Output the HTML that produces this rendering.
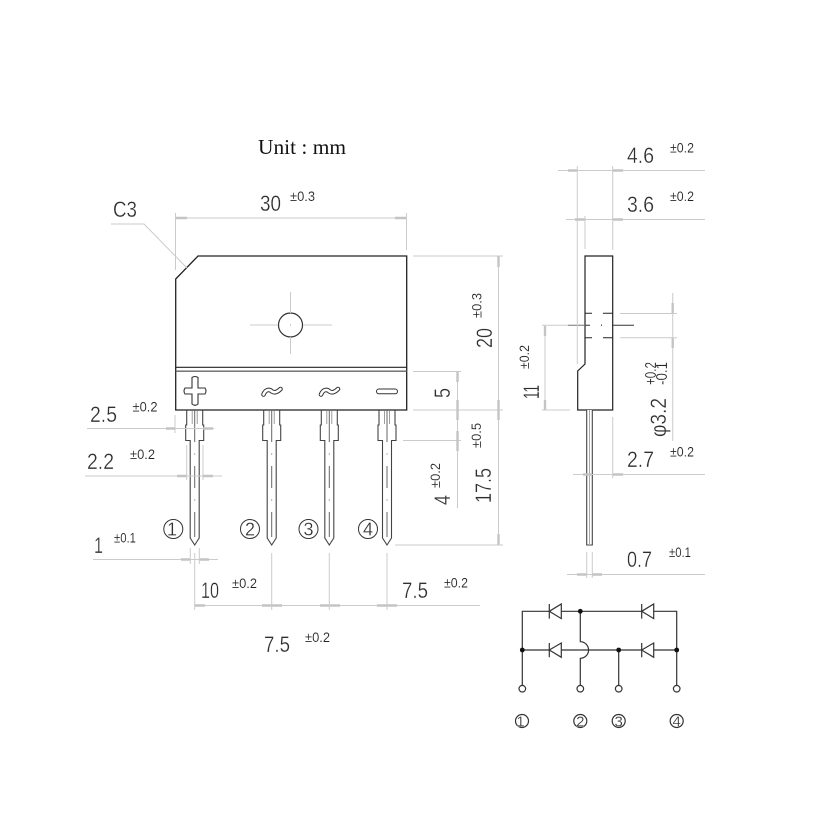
<!DOCTYPE html>
<html><head><meta charset="utf-8"><style>
html,body{margin:0;padding:0;background:#fff;width:838px;height:838px;overflow:hidden}
svg{display:block}
text{font-family:"Liberation Sans",sans-serif;fill:#2e2e2e}
.n{font-size:22.5px;stroke:#fff;stroke-width:.3}
.s{font-size:14px;fill:#222;stroke:#fff;stroke-width:.12}
.p{font-size:16px;fill:#222;stroke:#fff;stroke-width:.15}
.c{font-size:18px;text-anchor:middle;stroke:#fff;stroke-width:.25}
.d{font-size:15px;text-anchor:middle;stroke:#fff;stroke-width:.2}
.u{font-family:"Liberation Serif",serif;font-size:21.5px;fill:#111}
</style></head><body>
<svg width="838" height="838" viewBox="0 0 838 838" xmlns="http://www.w3.org/2000/svg">
<defs>
<g id="pin">
<path d="M-8 410V425H-9V440.5H-4.5V538L0 545L4.5 538V440.5H9V425H8V410" fill="none" stroke="#444" stroke-width="1.1"/>
<path d="M0 410V442M0 453.5V454.5M0 466V488M0 499.5V500.5M0 512V537" fill="none" stroke="#666" stroke-width="1"/>
<path d="M-2.5 410V424M2.5 410V424" fill="none" stroke="#777" stroke-width=".9" opacity=".8"/>
</g>
<g id="wave">
<path d="M-8 3C-5.500 -3 -1.500 -2 .5 0C3.500 2 6.500 0 9 -2.500" fill="none" stroke="#333" stroke-width="4.600" stroke-linecap="round"/>
<path d="M-8 3C-5.500 -3 -1.500 -2 .5 0C3.500 2 6.500 0 9 -2.500" fill="none" stroke="#fff" stroke-width="2.600" stroke-linecap="round"/>
</g>
</defs>

<!-- body -->
<path d="M175.7 279L198 256H406.7V410H175.7Z" fill="#fff" stroke="#222" stroke-width="1.3"/>
<path d="M175.7 367.3H406.7" stroke="#222" stroke-width="1.2"/>
<path d="M175.7 371.2H406.7" stroke="#666" stroke-width="1.4"/>
<circle cx="290.5" cy="325" r="12" fill="#fff" stroke="#333" stroke-width="1.2"/>
<path d="M290.5 324.5V325.500" stroke="#aaa"/>

<!-- symbols -->
<path d="M192 377.500Q195 375.500 198 377.500V388H205Q207 391 205 394H198V404Q195 406.500 192 404V394H185Q183 391 185 388H192Z" fill="#fff" stroke="#333" stroke-width="1.100"/>
<use href="#wave" x="271.500" y="391.500"/>
<use href="#wave" x="329" y="391.500"/>
<rect x="376.500" y="389" width="21" height="4.800" rx="2.400" fill="#fff" stroke="#333" stroke-width="1"/>

<!-- pins -->
<use href="#pin" x="194.700"/>
<use href="#pin" x="271.700"/>
<use href="#pin" x="329.300"/>
<use href="#pin" x="387"/>

<!-- numbered circles -->
<g fill="#fff" stroke="#333" stroke-width="1">
<circle cx="173.300" cy="529" r="9.500"/><circle cx="250" cy="529" r="9.500"/><circle cx="308.500" cy="529" r="9.500"/><circle cx="368" cy="529" r="9.500"/>
</g>
<text class="c" x="172" y="535.500">1</text><text class="c" x="250" y="535.500">2</text><text class="c" x="308.500" y="535.500">3</text><text class="c" x="368" y="535.500">4</text>

<!-- side view -->
<path d="M585 256H612.700V410H577.700V371L585 364Z" fill="#fff" stroke="#222" stroke-width="1.200"/>
<path d="M586.700 410V545H592.300V410" fill="#fff" stroke="#444" stroke-width="1.100"/>
<path d="M589.500 410V545" stroke="#aaa" stroke-width="1"/>
<path d="M585 313.300H592M603 313.300H612.700M585 337.700H592M603 337.700H612.700" stroke="#222" stroke-width="1"/>
<path d="M585 325.300H590M612.700 325.300H634" stroke="#333" stroke-width="1"/>
<path d="M568 325.300H585" stroke="#777" stroke-width="1"/>
<path d="M601.500 324.500V326" stroke="#555"/>

<!-- light dimension lines -->
<g fill="none" stroke="#cbcbcb" stroke-width="1">
<path d="M175.500 218H406.500M175.500 213V270M406.500 213V250"/>
<path d="M111 224H144L187 268"/>
<path d="M250 325H278M303 325H332M290.500 292V313M290.500 337V354"/>
<path d="M413 256H503M413 410H503M395 545H503M498.500 256V545"/>
<path d="M413 371.500H461M403 440.500H461M457.500 371.500V508"/>
<path d="M87 428.500H214M175 415V433"/>
<path d="M85 476H222M186.700 445V480M203 445V480"/>
<path d="M93 559.500H218M190.300 548V564M199.300 548V564"/>
<path d="M194 605.500H480M194.700 553V610M271.700 553V610M329.300 553V610M387 553V610"/>
<path d="M558 170.500H705M566 219.500H705M577.300 166V364M612.700 166V250M585 216V249"/>
<path d="M620 313.500H677M620 337.700H677M672.700 293V441"/>
<path d="M542 325.300H568M542 410H570M545 325.300V410"/>
<path d="M573 474.500H705M612.700 417V478"/>
<path d="M567 574.500H705M586.700 552V578M592.300 552V578"/>
</g>
<!-- arrow heads -->
<g fill="none" stroke="#c4c4c4" stroke-width="2.400">
<path d="M176 218H187M395 218H406"/>
<path d="M166 428.500H175M203 428.500H213"/>
<path d="M177 476H186.500M203 476H213"/>
<path d="M181 559.500H190M199.500 559.500H209"/>
<path d="M195 605.500H205M262 605.500H271.500M272 605.500H282M320 605.500H329M330 605.500H340M377 605.500H387M387.500 605.500H397"/>
<path d="M498.500 256V267M498.500 400V420M498.500 534V545"/>
<path d="M457.500 372V382M457.500 400V420M457.500 431V451"/>
<path d="M568 170.500H577M613 170.500H623M575 219.500H585M613 219.500H623"/>
<path d="M672.700 303V313M672.700 338V348"/>
<path d="M545 326V336M545 400V410"/>
<path d="M583 474.500H592M613 474.500H623"/>
<path d="M577 574.500H586.500M592.500 574.500H602"/>
</g>

<!-- schematic -->
<g fill="none" stroke="#333" stroke-width="1.200">
<path d="M522.300 685.400V611.300H549.300M561.300 611.300H641.700M653.700 611.300H676.700V685.400"/>
<path d="M522.300 650H549.300M561.300 650H580.300"/>
<path d="M580.300 650H641.700M653.700 650H676.700"/>
<path d="M580.300 611.300V641.700A8.300 8.300 0 0 1 580.300 658.300V685.400"/>
<path d="M618.700 650V685.400"/>
<path d="M561.300 604V618.600L549.300 611.300ZM561.300 643V657.300L549.300 650ZM653.700 604V618.600L641.700 611.300ZM653.700 643V657.300L641.700 650Z" fill="#fff"/>
<path d="M549.300 604V618.600M549.300 643V657.300M641.700 604V618.600M641.700 643V657.300"/>
<circle cx="522.300" cy="688.700" r="3.300" fill="#fff"/><circle cx="580.300" cy="688.700" r="3.300" fill="#fff"/><circle cx="618.700" cy="688.700" r="3.300" fill="#fff"/><circle cx="676.700" cy="688.700" r="3.300" fill="#fff"/>
<circle cx="522" cy="721" r="6.500"/><circle cx="580.300" cy="721" r="6.500"/><circle cx="618.700" cy="721" r="6.500"/><circle cx="676.700" cy="721" r="6.500"/>
</g>
<g fill="#111"><circle cx="580.300" cy="611.300" r="2.400"/><circle cx="522.300" cy="650" r="2.400"/><circle cx="618.700" cy="650" r="2.400"/><circle cx="676.700" cy="650" r="2.400"/></g>
<text class="d" x="520.500" y="726.500">1</text><text class="d" x="580.300" y="726.500">2</text><text class="d" x="618.700" y="726.500">3</text><text class="d" x="676.700" y="726.500">4</text>

<!-- text -->
<text class="u" x="258" y="154" textLength="88" lengthAdjust="spacingAndGlyphs">Unit : mm</text>
<text class="n" x="260" y="211" textLength="21" lengthAdjust="spacingAndGlyphs">30</text>
<text class="n" x="113" y="217" textLength="24" lengthAdjust="spacingAndGlyphs">C3</text>
<text class="n" x="90" y="422" textLength="27" lengthAdjust="spacingAndGlyphs">2.5</text>
<text class="n" x="87" y="469" textLength="27" lengthAdjust="spacingAndGlyphs">2.2</text>
<text class="n" x="94" y="553" textLength="9" lengthAdjust="spacingAndGlyphs">1</text>
<text class="n" x="201" y="598" textLength="18" lengthAdjust="spacingAndGlyphs">10</text>
<text class="n" x="264" y="652" textLength="26" lengthAdjust="spacingAndGlyphs">7.5</text>
<text class="n" x="402" y="598" textLength="26" lengthAdjust="spacingAndGlyphs">7.5</text>
<text class="n" x="627" y="163" textLength="27" lengthAdjust="spacingAndGlyphs">4.6</text>
<text class="n" x="627" y="212" textLength="27" lengthAdjust="spacingAndGlyphs">3.6</text>
<text class="n" x="627" y="467" textLength="27" lengthAdjust="spacingAndGlyphs">2.7</text>
<text class="n" x="627" y="567" textLength="25" lengthAdjust="spacingAndGlyphs">0.7</text>
<text class="s" x="290" y="201" textLength="25" lengthAdjust="spacingAndGlyphs">±0.3</text>
<text class="s" x="132.500" y="411.500" textLength="25" lengthAdjust="spacingAndGlyphs">±0.2</text>
<text class="s" x="130" y="459" textLength="25" lengthAdjust="spacingAndGlyphs">±0.2</text>
<text class="s" x="114" y="542.500" textLength="22" lengthAdjust="spacingAndGlyphs">±0.1</text>
<text class="s" x="232" y="588" textLength="25" lengthAdjust="spacingAndGlyphs">±0.2</text>
<text class="s" x="305" y="642" textLength="25" lengthAdjust="spacingAndGlyphs">±0.2</text>
<text class="s" x="444" y="587.500" textLength="24" lengthAdjust="spacingAndGlyphs">±0.2</text>
<text class="s" x="670" y="152.500" textLength="24" lengthAdjust="spacingAndGlyphs">±0.2</text>
<text class="s" x="670" y="201" textLength="24" lengthAdjust="spacingAndGlyphs">±0.2</text>
<text class="s" x="670" y="456.500" textLength="24" lengthAdjust="spacingAndGlyphs">±0.2</text>
<text class="s" x="669" y="557" textLength="22" lengthAdjust="spacingAndGlyphs">±0.1</text>

<!-- rotated -->
<text class="n" transform="translate(492 348) rotate(-90)" textLength="20" lengthAdjust="spacingAndGlyphs">20</text>
<text class="s" transform="translate(481.500 318) rotate(-90)" textLength="25" lengthAdjust="spacingAndGlyphs">±0.3</text>
<text class="n" transform="translate(450 398) rotate(-90)" textLength="10" lengthAdjust="spacingAndGlyphs">5</text>
<text class="s" transform="translate(481 448) rotate(-90)" textLength="25" lengthAdjust="spacingAndGlyphs">±0.5</text>
<text class="n" transform="translate(491 503) rotate(-90)" textLength="35" lengthAdjust="spacingAndGlyphs">17.5</text>
<text class="n" transform="translate(450 505) rotate(-90)" textLength="10" lengthAdjust="spacingAndGlyphs">4</text>
<text class="s" transform="translate(440 488) rotate(-90)" textLength="25" lengthAdjust="spacingAndGlyphs">±0.2</text>
<text class="n" transform="translate(539 399) rotate(-90)" textLength="14" lengthAdjust="spacingAndGlyphs">11</text>
<text class="s" transform="translate(529 369) rotate(-90)" textLength="24" lengthAdjust="spacingAndGlyphs">±0.2</text>
<text class="n" transform="translate(666 437) rotate(-90)" textLength="39" lengthAdjust="spacingAndGlyphs">φ3.2</text>
<text class="p" transform="translate(656 385) rotate(-90)" textLength="23" lengthAdjust="spacingAndGlyphs">+0.2</text>
<text class="p" transform="translate(667 385) rotate(-90)" textLength="23" lengthAdjust="spacingAndGlyphs">-0.1</text>
</svg>
</body></html>
